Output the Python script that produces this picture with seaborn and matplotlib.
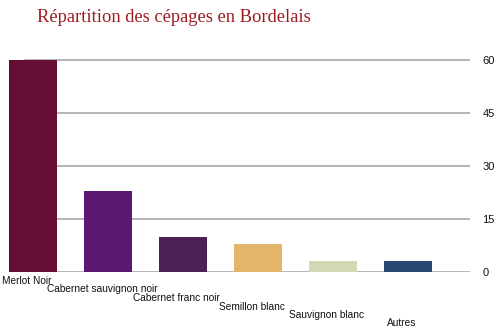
import matplotlib
matplotlib.use("Agg")
import matplotlib.pyplot as plt
import matplotlib.transforms as mtransforms
import seaborn as sns
import pandas as pd

categories = ["Merlot Noir", "Cabernet sauvignon noir", "Cabernet franc noir",
              "Semillon blanc", "Sauvignon blanc", "Autres"]
values = [60, 23, 10, 8, 3, 3]
colors = ["#650d33", "#5a1670", "#4a2258", "#e2b56a", "#d0d8b5", "#2a4774"]
yticks = [0, 15, 30, 45, 60]
title = "Répartition des cépages en Bordelais"

df = pd.DataFrame({"cepage": categories, "part": values})

sns.set_theme(style="white")
plt.rcParams["font.family"] = ["Liberation Sans", "DejaVu Sans"]

fig = plt.figure(figsize=(5.0, 3.34), dpi=100)
# baseline at y=272px, top of axes at y=40px (from top)
ax = fig.add_axes([0.0, (334 - 272) / 334, 0.94, (272 - 40) / 334])

sns.barplot(data=df, x="cepage", y="part", hue="cepage", palette=colors,
            legend=False, width=0.64, ax=ax, saturation=1, edgecolor="none")

ax.set_xlim(-0.44, 5.83)
ax.set_ylim(0, 60 * (272 - 40) / (272 - 60))
ax.set_yticks(yticks)
ax.yaxis.tick_right()
ax.tick_params(axis="y", length=0, labelsize=8, pad=9, colors="#111111")
ax.set_xticks([])
ax.set_xlabel("")
ax.set_ylabel("")
for t in yticks:
    ax.axhline(t, xmin=25 / 470, xmax=1.0, color="#a8a8a8", linewidth=1.2, zorder=0)
for s in ax.spines.values():
    s.set_visible(False)

trans = mtransforms.blended_transform_factory(ax.transData, ax.transAxes)
h_ax = (272 - 40)
for i, lab in enumerate(categories):
    ypx = 9 + 8.5 * i
    ax.text(i - 0.08, -ypx / h_ax, lab, transform=trans, ha="center", va="center",
            fontsize=7.3, color="#111111", clip_on=False)

fig.text(37 / 500, 1 - 17 / 334, title, ha="left", va="center",
         fontsize=13.3, color="#9e1b22", family=["Liberation Serif", "DejaVu Serif"])

fig.savefig("out.png", dpi=100)
